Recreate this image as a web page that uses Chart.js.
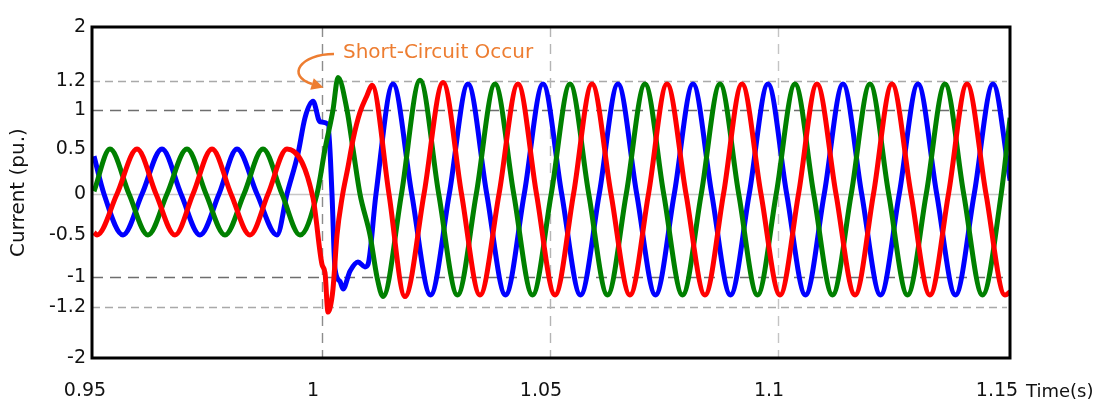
<!DOCTYPE html>
<html>
<head>
<meta charset="utf-8">
<script src="https://cdn.jsdelivr.net/npm/chart.js@4"></script>
<style>
  html, body { margin: 0; padding: 0; background: #fff; }
</style>
</head>
<body>
<canvas id="chart" width="1098" height="401"></canvas>
<script>
// tick labels
const xTicks = [0.95, 1, 1.05, 1.1, 1.15];
const yTicks = [-2, -1.2, -1, -0.5, 0, 0.5, 1, 1.2, 2];

// phase currents (time in s, current in pu.)
const tRed = [0.95, 0.95066, 0.95504, 0.95943, 0.96360, 0.96776, 0.97171, 0.97588, 0.98004, 0.98421,
  0.98816, 0.99232, 0.99803, 1.00000, 1.00066, 1.00132, 1.00175, 1.00241, 1.00329, 1.00439,
  1.00570, 1.00680, 1.00833, 1.00987, 1.01096, 1.01469, 1.01820, 1.02237, 1.02654, 1.03060,
  1.03465, 1.03882, 1.04298, 1.04704, 1.05110, 1.05516, 1.05921, 1.06338, 1.06754, 1.07160,
  1.07566, 1.07983, 1.08399, 1.08805, 1.09210, 1.09627, 1.10044, 1.10450, 1.10855, 1.11272,
  1.11689, 1.12094, 1.12500, 1.12917, 1.13333, 1.13739, 1.14145, 1.14562, 1.14978, 1.1509];
const iRed = [-0.47, -0.5, 0, 0.5, 0, -0.5, 0, 0.5, 0, -0.5,
  0, 0.5, -0.05, -0.85, -0.95, -1.28, -1.22, -1.08, -0.5, -0.05,
  0.3, 0.62, 0.97, 1.1, 1.17, 0, -1.13, 0, 1.19, 0,
  -1.12, 0, 1.18, 0, -1.12, 0, 1.18, 0, -1.12, 0,
  1.18, 0, -1.12, 0, 1.18, 0, -1.12, 0, 1.18, 0,
  -1.12, 0, 1.18, 0, -1.12, 0, 1.18, 0, -1.12, -1.1];

const tGreen = [0.95, 0.95351, 0.95768, 0.96184, 0.96601, 0.97039, 0.97456, 0.97873, 0.98289, 0.98706,
  0.99123, 0.99518, 0.99890, 1.00066, 1.00241, 1.00351, 1.00548, 1.00680, 1.00833, 1.01053,
  1.01206, 1.01338, 1.01743, 1.02149, 1.02560, 1.02971, 1.03383, 1.03794, 1.04205, 1.04616,
  1.05027, 1.05439, 1.05850, 1.06261, 1.06672, 1.07083, 1.07494, 1.07906, 1.08317, 1.08728,
  1.09139, 1.09550, 1.09961, 1.10373, 1.10784, 1.11195, 1.11606, 1.12017, 1.12428, 1.12840,
  1.13251, 1.13662, 1.14073, 1.14484, 1.14895, 1.1509];
const iGreen = [0.03, 0.5, 0, -0.5, 0, 0.5, 0, -0.5, 0, 0.5,
  0, -0.5, 0, 0.5, 1.0, 1.25, 1.0, 0.5, 0, -0.5,
  -1.0, -1.13, 0, 1.21, 0, -1.12, 0, 1.18, 0, -1.12,
  0, 1.18, 0, -1.12, 0, 1.18, 0, -1.12, 0, 1.18,
  0, -1.12, 0, 1.18, 0, -1.12, 0, 1.18, 0, -1.12,
  0, 1.18, 0, -1.12, 0, 0.9];

const tBlue = [0.95, 0.95219, 0.95636, 0.96053, 0.96491, 0.96908, 0.97325, 0.97741, 0.98136, 0.98575,
  0.99013, 0.99232, 0.99474, 0.99627, 0.99803, 0.99956, 1.00132, 1.00219, 1.00285, 1.00395,
  1.00461, 1.00614, 1.00789, 1.00943, 1.01009, 1.01184, 1.01557, 1.01968, 1.02380, 1.02791,
  1.03202, 1.03613, 1.04024, 1.04435, 1.04846, 1.05257, 1.05669, 1.06080, 1.06491, 1.06902,
  1.07314, 1.07725, 1.08136, 1.08547, 1.08958, 1.09369, 1.09780, 1.10191, 1.10603, 1.11014,
  1.11425, 1.11836, 1.12248, 1.12659, 1.13070, 1.13481, 1.13892, 1.14303, 1.14715, 1.1509];
const iBlue = [0.42, 0, -0.5, 0, 0.5, 0, -0.5, 0, 0.5, 0,
  -0.5, 0, 0.45, 0.9, 1.06, 0.85, 0.82, 0, -0.9, -1.03,
  -1.08, -0.93, -0.82, -0.88, -0.85, 0, 1.18, 0, -1.12, 0,
  1.18, 0, -1.12, 0, 1.18, 0, -1.12, 0, 1.18, 0,
  -1.12, 0, 1.18, 0, -1.12, 0, 1.18, 0, -1.12, 0,
  1.18, 0, -1.12, 0, 1.18, 0, -1.12, 0, 1.18, 0.15];

const faultTime = 1.0;

// the value axis in the picture is not evenly spaced: value -> fraction of height
const yBreaks = [-2, -1.2, -1, -0.5, 0, 0.5, 1, 1.2, 2];
const yStops = [0, 0.1541, 0.2447, 0.3716, 0.4955, 0.6314, 0.7492, 0.8369, 1];

function interp(v, from, to) {
    if (v <= from[0]) return to[0];
    for (let i = 1; i < from.length; i++) {
        if (v <= from[i]) {
            const f = (v - from[i - 1]) / (from[i] - from[i - 1]);
            return to[i - 1] + f * (to[i] - to[i - 1]);
        }
    }
    return to[to.length - 1];
}

class BrokenScale extends Chart.LinearScale {
    static id = 'broken';
    static defaults = Chart.LinearScale.defaults;
    getPixelForValue(value) {
        return this.getPixelForDecimal(interp(value, yBreaks, yStops));
    }
    getValueForPixel(pixel) {
        return interp(this.getDecimalForPixel(pixel), yStops, yBreaks);
    }
}
Chart.register(BrokenScale);

const points = (t, v) => t.map((x, i) => ({ x: x, y: v[i] }));

// grid lines as drawn in the picture
const hGrid = [
    { value: 1.2, color: '#a9a9a9', dash: [8, 5] },
    { value: 1, color: '#6e6e6e', dash: [11, 7] },
    { value: 0, color: '#c8c8c8', dash: [] },
    { value: -1, color: '#6e6e6e', dash: [11, 7] },
    { value: -1.2, color: '#a9a9a9', dash: [8, 5] }
];
const vGrid = [
    { value: 1, color: '#8c8c8c', dash: [10, 7] },
    { value: 1.05, color: '#b4b4b4', dash: [10, 7] },
    { value: 1.1, color: '#c4c4c4', dash: [10, 7] }
];

const font = { family: 'DejaVu Sans', size: 19 };
const orange = '#ED7D31';

const decor = {
    id: 'decor',
    beforeDatasetsDraw(chart) {
        const { ctx, chartArea: a, scales: { x, y } } = chart;
        ctx.save();
        ctx.lineWidth = 1.4;
        hGrid.forEach(g => {
            const py = Math.round(y.getPixelForValue(g.value)) + 0.5;
            ctx.strokeStyle = g.color;
            ctx.setLineDash(g.dash);
            ctx.beginPath();
            ctx.moveTo(a.left, py);
            ctx.lineTo(a.right - 3, py);
            ctx.stroke();
        });
        vGrid.forEach(g => {
            const px = Math.round(x.getPixelForValue(g.value)) + 0.5;
            ctx.strokeStyle = g.color;
            ctx.setLineDash(g.dash);
            ctx.beginPath();
            ctx.moveTo(px, a.top);
            ctx.lineTo(px, a.bottom);
            ctx.stroke();
        });
        ctx.restore();
    },
    afterDatasetsDraw(chart) {
        const { ctx, chartArea: a, scales: { x, y } } = chart;
        ctx.save();
        // plot frame
        ctx.strokeStyle = '#000';
        ctx.lineWidth = 3;
        ctx.strokeRect(a.left, a.top, a.right - a.left, a.bottom - a.top);

        // axis name at the end of the time axis
        ctx.fillStyle = '#111';
        ctx.font = '18px "DejaVu Sans"';
        ctx.textBaseline = 'middle';
        ctx.textAlign = 'left';
        ctx.fillText('Time(s)', a.right + 16, a.bottom + 34);

        // fault annotation
        const ax = x.getPixelForValue(faultTime);
        const ay = y.getPixelForValue(1.2);
        ctx.fillStyle = orange;
        ctx.font = '20px "DejaVu Sans"';
        ctx.fillText('Short-Circuit Occur', ax + 21, ay - 28);

        const sx = ax + 12, sy = ay - 27;
        const c1x = ax - 22, c1y = ay - 27;
        const c2x = ax - 36, c2y = ay - 5;
        const ex = ax - 10, ey = ay + 3;
        ctx.strokeStyle = orange;
        ctx.lineWidth = 2.5;
        ctx.beginPath();
        ctx.moveTo(sx, sy);
        ctx.bezierCurveTo(c1x, c1y, c2x, c2y, ex, ey);
        ctx.stroke();
        let dx = ex - c2x, dy = ey - c2y;
        const len = Math.hypot(dx, dy);
        dx /= len; dy /= len;
        ctx.beginPath();
        ctx.moveTo(ex + dx * 12, ey + dy * 12);
        ctx.lineTo(ex - dy * 6, ey + dx * 6);
        ctx.lineTo(ex + dy * 6, ey - dx * 6);
        ctx.closePath();
        ctx.fill();
        ctx.restore();
    }
};

const lineStyle = {
    borderWidth: 5,
    pointRadius: 0,
    fill: false,
    cubicInterpolationMode: 'monotone'
};

new Chart(document.getElementById('chart'), {
    type: 'line',
    data: {
        datasets: [
            { label: 'Phase C', data: points(tRed, iRed), borderColor: '#ff0000', ...lineStyle },
            { label: 'Phase B', data: points(tGreen, iGreen), borderColor: '#008000', ...lineStyle },
            { label: 'Phase A', data: points(tBlue, iBlue), borderColor: '#0000ff', ...lineStyle }
        ]
    },
    options: {
        responsive: false,
        animation: false,
        layout: { padding: { top: 27, right: 88, left: 0, bottom: 0 } },
        plugins: {
            legend: { display: false },
            tooltip: { enabled: false }
        },
        scales: {
            x: {
                type: 'linear',
                min: 0.94956,
                max: 1.15088,
                afterBuildTicks: s => { s.ticks = xTicks.map(v => ({ value: v })); },
                afterFit: s => { s.height = 43; },
                grid: { display: false, drawTicks: false },
                border: { display: false },
                ticks: {
                    autoSkip: false,
                    maxRotation: 0,
                    padding: 22,
                    labelOffset: -9,
                    color: '#111',
                    font: font,
                    callback: v => String(v)
                }
            },
            y: {
                type: 'broken',
                min: -2,
                max: 2,
                afterBuildTicks: s => { s.ticks = yTicks.map(v => ({ value: v })); },
                afterFit: s => { s.width = 92; },
                grid: { display: false, drawTicks: false },
                border: { display: false },
                ticks: {
                    autoSkip: false,
                    padding: 6,
                    color: '#111',
                    font: font,
                    callback: v => String(v)
                },
                title: {
                    display: true,
                    text: 'Current (pu.)',
                    color: '#111',
                    font: { family: 'DejaVu Sans', size: 20 },
                    padding: { top: 7, bottom: 0 }
                }
            }
        }
    },
    plugins: [decor]
});
</script>
</body>
</html>
